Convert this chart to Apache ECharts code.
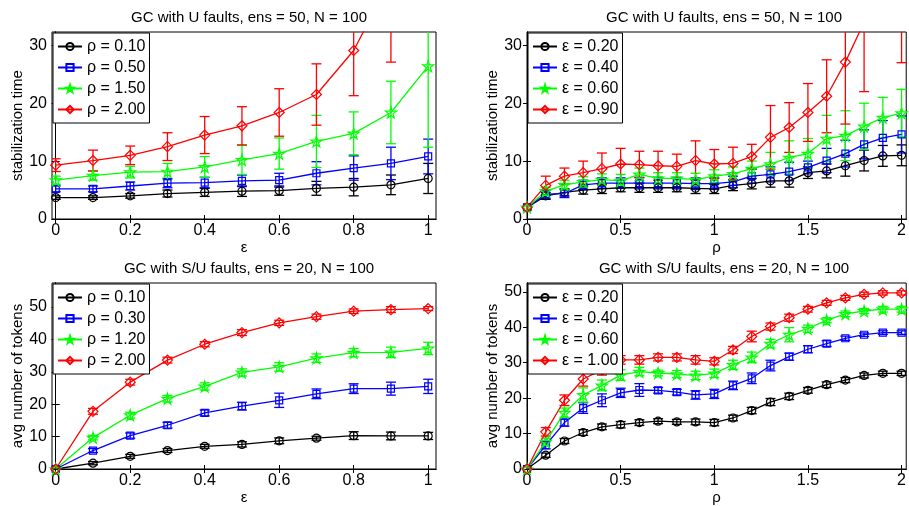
<!DOCTYPE html>
<html>
<head>
<meta charset="utf-8">
<script src="https://cdn.jsdelivr.net/npm/echarts@6/dist/echarts.min.js"></script>
<style>
  html, body { margin: 0; padding: 0; background: #fff; }
  #main { width: 909px; height: 506px; }
</style>
</head>
<body>
<div id="main"></div>
<script>
// x values
var epsX = [0, 0.1, 0.2, 0.3, 0.4, 0.5, 0.6, 0.7, 0.8, 0.9, 1];
var rhoX = [0, 0.1, 0.2, 0.3, 0.4, 0.5, 0.6, 0.7, 0.8, 0.9, 1, 1.1, 1.2, 1.3, 1.4, 1.5, 1.6, 1.7, 1.8, 1.9, 2];

// tick labels
var epsTicks = [0, 0.2, 0.4, 0.6, 0.8, 1];
var rhoTicks = [0, 0.5, 1, 1.5, 2];
var timeTicks = [0, 10, 20, 30];
var tokTicks = [0, 10, 20, 30, 40, 50];

var titles = [
    'GC with U faults, ens = 50, N = 100',
    'GC with U faults, ens = 50, N = 100',
    'GC with S/U faults, ens = 20, N = 100',
    'GC with S/U faults, ens = 20, N = 100'
];

// top left: stabilization time vs eps
var tlNames = ['ρ = 0.10', 'ρ = 0.50', 'ρ = 1.50', 'ρ = 2.00'];
var tlMean = [
    [3.7, 3.7, 4.0, 4.4, 4.6, 4.8, 4.9, 5.3, 5.5, 5.9, 7.0],
    [5.2, 5.2, 5.7, 6.2, 6.3, 6.6, 6.7, 7.9, 8.8, 9.6, 10.8],
    [6.7, 7.5, 8.1, 8.2, 9.0, 10.2, 11.3, 13.4, 14.8, 18.4, 26.4],
    [9.3, 10.1, 11.0, 12.5, 14.5, 16.1, 18.4, 21.5, 29.1, 41.5, 60]
];
var tlErr = [
    [0.3, 0.3, 0.4, 0.6, 0.7, 0.9, 0.8, 1.2, 1.5, 1.7, 2.6],
    [0.5, 0.5, 0.7, 0.8, 0.9, 1.0, 1.2, 2.0, 2.1, 2.8, 3.0],
    [0.7, 0.8, 1.0, 1.4, 1.8, 2.5, 2.7, 4.5, 3.7, 5.4, 14],
    [1.1, 1.8, 1.6, 2.4, 3.2, 3.3, 4.1, 5.3, 7.8, 14.4, 20]
];

// top right: stabilization time vs rho
var trNames = ['ε = 0.20', 'ε = 0.40', 'ε = 0.60', 'ε = 0.90'];
var trMean = [
    [2.0, 4.0, 4.6, 5.0, 5.2, 5.4, 5.4, 5.4, 5.4, 5.3, 5.2, 5.8, 6.1, 6.6, 6.6, 8.0, 8.3, 9.2, 10.1, 10.9, 11.0],
    [2.0, 4.3, 4.4, 5.9, 6.2, 6.2, 6.2, 6.2, 6.2, 6.1, 6.1, 6.4, 7.4, 7.7, 8.2, 8.9, 10.1, 11.3, 12.9, 14.0, 14.6],
    [2.0, 4.8, 5.9, 6.4, 6.8, 6.6, 7.7, 7.0, 7.0, 6.8, 7.4, 7.8, 8.7, 9.5, 10.6, 11.3, 13.9, 14.4, 16.0, 17.5, 18.3],
    [2.0, 5.8, 7.4, 8.0, 8.7, 9.5, 9.4, 9.2, 9.1, 10.1, 9.5, 9.6, 10.8, 14.1, 15.8, 18.4, 21.2, 27.1, 34, 45, 42]
];
var trErr = [
    [0.4, 0.6, 0.6, 0.7, 0.8, 0.7, 0.8, 0.8, 0.7, 0.9, 0.8, 0.9, 0.9, 1.1, 1.1, 1.0, 1.2, 1.8, 1.8, 1.8, 1.8],
    [0.4, 0.7, 0.7, 0.8, 0.9, 0.9, 1.0, 1.0, 1.0, 1.0, 1.0, 1.0, 1.2, 1.3, 1.6, 1.1, 2.1, 2.3, 2.5, 3.0, 3.2],
    [0.4, 0.7, 0.8, 0.9, 1.0, 1.1, 1.1, 1.0, 1.0, 1.1, 1.1, 1.2, 1.3, 2.0, 2.9, 2.6, 4.0, 4.3, 4.0, 3.5, 4.1],
    [0.3, 1.6, 1.4, 2.0, 2.7, 2.7, 2.3, 2.5, 2.1, 3.4, 2.5, 2.8, 2.1, 5.5, 4.3, 5.0, 6.3, 10.7, 12, 12, 15]
];

// bottom left: tokens vs eps
var blNames = ['ρ = 0.10', 'ρ = 0.30', 'ρ = 1.20', 'ρ = 2.00'];
var blMean = [
    [0, 1.8, 3.9, 5.7, 7.0, 7.6, 8.7, 9.5, 10.3, 10.2, 10.2],
    [0, 5.7, 10.3, 13.5, 17.3, 19.4, 21.2, 23.2, 24.8, 24.8, 25.5],
    [0, 9.7, 16.6, 21.7, 25.5, 29.8, 31.5, 34.2, 35.9, 36.0, 37.2],
    [0, 17.8, 26.8, 33.6, 38.5, 42.1, 45.1, 47.0, 48.7, 49.2, 49.5]
];
var blErr = [
    [0.3, 0.5, 0.6, 0.6, 0.6, 0.8, 0.9, 0.6, 1.2, 1.2, 1.1],
    [0.4, 0.6, 0.8, 0.9, 0.9, 1.2, 2.2, 1.5, 1.5, 2.0, 2.2],
    [0.4, 0.7, 0.9, 1.0, 1.1, 1.1, 1.3, 1.3, 1.3, 1.6, 1.9],
    [0.8, 0.9, 0.9, 0.9, 0.8, 0.9, 0.8, 0.8, 0.7, 0.9, 0.6]
];

// bottom right: tokens vs rho
var brNames = ['ε = 0.20', 'ε = 0.40', 'ε = 0.60', 'ε = 1.00'];
var brMean = [
    [0, 3.9, 7.9, 10.3, 11.9, 12.5, 13.1, 13.5, 13.3, 13.3, 13.1, 14.4, 16.5, 18.9, 20.5, 22.2, 23.8, 25.1, 26.4, 27.0, 27.0],
    [0, 6.7, 13.1, 17.2, 19.4, 21.5, 22.3, 22.2, 21.7, 20.9, 21.2, 23.6, 25.6, 29.2, 31.7, 33.8, 35.4, 36.9, 37.9, 38.5, 38.5],
    [0, 7.7, 15.9, 20.9, 23.6, 26.5, 27.5, 27.1, 26.8, 26.4, 27.0, 29.4, 31.5, 35.4, 37.9, 39.6, 42.0, 43.8, 44.6, 45.1, 45.1],
    [0, 10.5, 19.4, 25.4, 28.0, 30.8, 30.8, 31.5, 31.5, 30.8, 30.4, 33.6, 37.4, 40.2, 42.7, 45.1, 46.9, 48.3, 49.3, 49.7, 49.7]
];
var brErr = [
    [0.4, 0.6, 0.7, 0.8, 0.8, 0.9, 0.8, 0.7, 0.7, 0.8, 0.9, 0.8, 0.9, 1.0, 0.9, 0.8, 0.8, 0.7, 0.7, 0.6, 0.6],
    [0.5, 1.0, 1.0, 1.5, 1.8, 1.3, 1.8, 0.8, 0.8, 1.2, 1.3, 1.2, 1.5, 1.5, 1.0, 1.0, 0.8, 0.6, 0.5, 0.5, 0.5],
    [0.5, 1.0, 1.3, 2.0, 1.5, 1.5, 1.2, 0.8, 1.0, 1.2, 1.2, 1.3, 1.5, 1.2, 2.0, 1.0, 0.7, 0.8, 0.7, 0.8, 0.8],
    [0.5, 1.2, 1.5, 2.0, 1.5, 1.2, 1.2, 1.0, 1.0, 1.2, 1.0, 1.0, 1.5, 1.0, 1.0, 0.8, 0.7, 0.7, 0.6, 0.6, 0.6]
];

var ink = '#000';
var font = '"Liberation Sans", Arial, Helvetica, sans-serif';
var colors = ['#000000', '#0000ff', '#00ff00', '#ff0000'];
var star = 'path://M50,0 L61,35 L98,35 L68,57 L79,91 L50,70 L21,91 L32,57 L2,35 L39,35 Z';
var symbols = ['circle', 'rect', star, 'diamond'];
var symSizes = [8, 7, 11, 10];

var panels = [
    { x: epsX, mean: tlMean, err: tlErr, names: tlNames, xTicks: epsTicks, yTicks: timeTicks,
      xMin: -0.01, xMax: 1.021, yMax: 32.3, xName: 'ε', yName: 'stabilization time',
      left: 52, top: 32, height: 187 },
    { x: rhoX, mean: trMean, err: trErr, names: trNames, xTicks: rhoTicks, yTicks: timeTicks,
      xMin: 0, xMax: 2.025, yMax: 32.3, xName: 'ρ', yName: 'stabilization time',
      left: 527, top: 32, height: 187 },
    { x: epsX, mean: blMean, err: blErr, names: blNames, xTicks: epsTicks, yTicks: tokTicks,
      xMin: -0.01, xMax: 1.021, yMax: 57.4, xName: 'ε', yName: 'avg number of tokens',
      left: 52, top: 283, height: 188 },
    { x: rhoX, mean: brMean, err: brErr, names: brNames, xTicks: rhoTicks, yTicks: tokTicks,
      xMin: 0, xMax: 2.025, yMax: 52.5, xName: 'ρ', yName: 'avg number of tokens',
      left: 527, top: 283, height: 188 }
];

function renderErr(params, api) {
    var x = api.value(0), y = api.value(1), e = api.value(2);
    var lo = api.coord([x, y - e]);
    var hi = api.coord([x, y + e]);
    var w = 5;
    var st = { stroke: api.visual('color'), lineWidth: 1.3 };
    return {
        type: 'group',
        children: [
            { type: 'line', shape: { x1: lo[0], y1: lo[1], x2: hi[0], y2: hi[1] }, style: st },
            { type: 'line', shape: { x1: lo[0] - w, y1: lo[1], x2: lo[0] + w, y2: lo[1] }, style: st },
            { type: 'line', shape: { x1: hi[0] - w, y1: hi[1], x2: hi[0] + w, y2: hi[1] }, style: st }
        ]
    };
}

var grids = [], xAxes = [], yAxes = [], titleList = [], legends = [], series = [];
var W = 384;

panels.forEach(function (p, i) {
    grids.push({ left: p.left, top: p.top, width: W, height: p.height,
        show: true, borderColor: ink, borderWidth: 1, backgroundColor: 'transparent' });

    titleList.push({ text: titles[i], left: p.left + W / 2, top: p.top - 27, textAlign: 'center',
        textStyle: { fontFamily: font, fontSize: 15, fontWeight: 'normal', color: ink } });

    xAxes.push({
        gridIndex: i, type: 'value', min: p.xMin, max: p.xMax, position: 'bottom',
        axisLine: { lineStyle: { color: ink } },
        axisTick: { inside: true, length: 4, customValues: p.xTicks, lineStyle: { color: ink } },
        axisLabel: { customValues: p.xTicks, color: ink, fontFamily: font, fontSize: 16, margin: 4 },
        splitLine: { show: false },
        name: p.xName, nameLocation: 'middle', nameGap: 21,
        nameTextStyle: { fontFamily: font, fontSize: 15, color: ink }
    });
    yAxes.push({
        gridIndex: i, type: 'value', min: 0, max: p.yMax, position: 'left',
        axisLine: { lineStyle: { color: ink } },
        axisTick: { inside: true, length: 4, customValues: p.yTicks, lineStyle: { color: ink } },
        axisLabel: { customValues: p.yTicks, color: ink, fontFamily: font, fontSize: 16, margin: 5 },
        splitLine: { show: false },
        name: p.yName, nameLocation: 'middle', nameGap: 27,
        nameTextStyle: { fontFamily: font, fontSize: 15, color: ink }
    });

    legends.push({
        data: p.names, orient: 'vertical', left: p.left + 1, top: p.top + 1,
        backgroundColor: '#fff', borderColor: ink, borderWidth: 1, borderRadius: 0,
        padding: [5, 4, 5, 4], itemGap: 4, itemWidth: 24, itemHeight: 9, itemTextGap: 3,
        selectedMode: false,
        textStyle: { fontFamily: font, fontSize: 16, color: ink, lineHeight: 17 }
    });

    p.names.forEach(function (nm, k) {
        var c = colors[k];
        var pts = p.x.map(function (xv, j) { return [xv, p.mean[k][j]]; });
        var errPts = p.x.map(function (xv, j) { return [xv, p.mean[k][j], p.err[k][j]]; });
        series.push({
            type: 'custom', xAxisIndex: i, yAxisIndex: i, clip: true,
            itemStyle: { color: c }, renderItem: renderErr,
            encode: { x: 0, y: 1 }, data: errPts, silent: true, z: 2
        });
        series.push({
            name: nm, type: 'line', xAxisIndex: i, yAxisIndex: i, clip: true,
            data: pts, symbol: symbols[k], symbolSize: symSizes[k], showSymbol: true,
            lineStyle: { color: c, width: 1.3 },
            itemStyle: { color: 'rgba(255,255,255,0)', borderColor: c, borderWidth: 1.2 },
            animation: false, z: 3
        });
    });
});

// mirrored ticks on top and right (box style)
panels.forEach(function (p, i) {
    xAxes.push({
        gridIndex: i, type: 'value', min: p.xMin, max: p.xMax, position: 'top',
        axisLine: { lineStyle: { color: ink } },
        axisTick: { inside: true, length: 4, customValues: p.xTicks, lineStyle: { color: ink } },
        axisLabel: { show: false }, splitLine: { show: false }
    });
    yAxes.push({
        gridIndex: i, type: 'value', min: 0, max: p.yMax, position: 'right',
        axisLine: { lineStyle: { color: ink } },
        axisTick: { inside: true, length: 4, customValues: p.yTicks, lineStyle: { color: ink } },
        axisLabel: { show: false }, splitLine: { show: false }
    });
});

var chart = echarts.init(document.getElementById('main'));
chart.setOption({
    animation: false,
    backgroundColor: '#fff',
    textStyle: { fontFamily: font },
    title: titleList,
    legend: legends,
    grid: grids,
    xAxis: xAxes,
    yAxis: yAxes,
    series: series
});
</script>
</body>
</html>
